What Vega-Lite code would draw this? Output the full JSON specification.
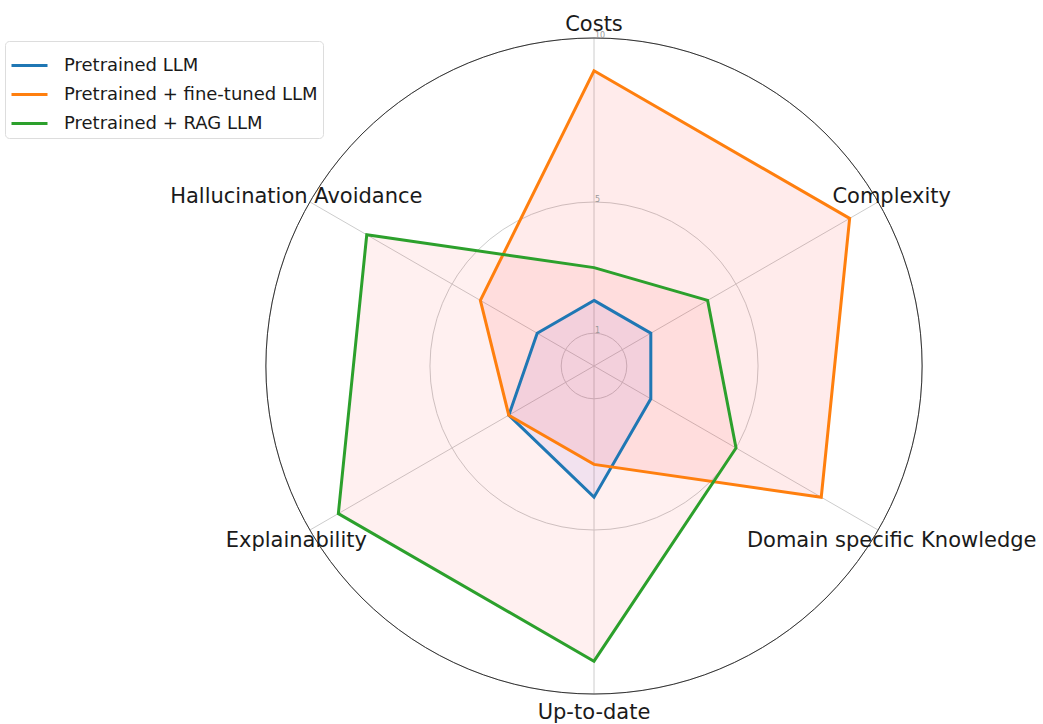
{
  "$schema": "https://vega.github.io/schema/vega-lite/v6.json",
  "width": 656,
  "height": 656,
  "autosize": {"type": "none"},
  "padding": {"left": 266, "top": 38, "right": 121, "bottom": 30},
  "background": "white",
  "config": {"view": {"stroke": null}, "font": "DejaVu Sans"},
  "resolve": {"legend": {"color": "independent", "fill": "independent"}},
  "datasets": {
    "scores": [
      {"series": "Pretrained LLM", "axis": "Costs", "idx": 0, "value": 2},
      {"series": "Pretrained LLM", "axis": "Complexity", "idx": 1, "value": 2},
      {"series": "Pretrained LLM", "axis": "Domain specific Knowledge", "idx": 2, "value": 2},
      {"series": "Pretrained LLM", "axis": "Up-to-date", "idx": 3, "value": 4},
      {"series": "Pretrained LLM", "axis": "Explainability", "idx": 4, "value": 3},
      {"series": "Pretrained LLM", "axis": "Hallucination Avoidance", "idx": 5, "value": 2},
      {"series": "Pretrained + fine-tuned LLM", "axis": "Costs", "idx": 0, "value": 9},
      {"series": "Pretrained + fine-tuned LLM", "axis": "Complexity", "idx": 1, "value": 9},
      {"series": "Pretrained + fine-tuned LLM", "axis": "Domain specific Knowledge", "idx": 2, "value": 8},
      {"series": "Pretrained + fine-tuned LLM", "axis": "Up-to-date", "idx": 3, "value": 3},
      {"series": "Pretrained + fine-tuned LLM", "axis": "Explainability", "idx": 4, "value": 3},
      {"series": "Pretrained + fine-tuned LLM", "axis": "Hallucination Avoidance", "idx": 5, "value": 4},
      {"series": "Pretrained + RAG LLM", "axis": "Costs", "idx": 0, "value": 3},
      {"series": "Pretrained + RAG LLM", "axis": "Complexity", "idx": 1, "value": 4},
      {"series": "Pretrained + RAG LLM", "axis": "Domain specific Knowledge", "idx": 2, "value": 5},
      {"series": "Pretrained + RAG LLM", "axis": "Up-to-date", "idx": 3, "value": 9},
      {"series": "Pretrained + RAG LLM", "axis": "Explainability", "idx": 4, "value": 9},
      {"series": "Pretrained + RAG LLM", "axis": "Hallucination Avoidance", "idx": 5, "value": 8}
    ],
    "axes": [
      {"axis": "Costs", "idx": 0},
      {"axis": "Complexity", "idx": 1},
      {"axis": "Domain specific Knowledge", "idx": 2},
      {"axis": "Up-to-date", "idx": 3},
      {"axis": "Explainability", "idx": 4},
      {"axis": "Hallucination Avoidance", "idx": 5}
    ],
    "ticks": [
      {"r": 1, "label": "1"},
      {"r": 5, "label": "5"},
      {"r": 10, "label": "10"}
    ]
  },
  "layer": [
    {
      "data": {"name": "ticks"},
      "mark": {"type": "arc", "filled": false, "stroke": "#cccccc", "strokeWidth": 1},
      "encoding": {
        "theta": {"value": 0},
        "theta2": {"value": 6.2832},
        "radius": {"field": "r", "type": "quantitative", "stack": null, "scale": {"type": "linear", "domain": [0, 10], "range": [0, 328], "zero": true}}
      }
    },
    {
      "data": {"name": "axes"},
      "transform": [
        {"calculate": "0", "as": "x0"},
        {"calculate": "0", "as": "y0"},
        {"calculate": "10 * sin(datum.idx * PI / 3)", "as": "x1"},
        {"calculate": "10 * cos(datum.idx * PI / 3)", "as": "y1"}
      ],
      "mark": {"type": "rule", "stroke": "#cccccc", "strokeWidth": 1},
      "encoding": {
        "x": {"field": "x0", "type": "quantitative", "scale": {"domain": [-10, 10], "nice": false, "zero": false}, "axis": null},
        "y": {"field": "y0", "type": "quantitative", "scale": {"domain": [-10, 10], "nice": false, "zero": false}, "axis": null},
        "x2": {"field": "x1"},
        "y2": {"field": "y1"}
      }
    },
    {
      "data": {"name": "scores"},
      "transform": [
        {"calculate": "datum.value * sin(datum.idx * PI / 3)", "as": "px"},
        {"calculate": "datum.value * cos(datum.idx * PI / 3)", "as": "py"}
      ],
      "mark": {"type": "line", "interpolate": "linear-closed", "strokeWidth": 0, "stroke": null},
      "encoding": {
        "x": {"field": "px", "type": "quantitative", "axis": null},
        "y": {"field": "py", "type": "quantitative", "axis": null},
        "order": {"field": "idx", "type": "quantitative"},
        "detail": {"field": "series"},
        "fill": {"field": "series", "type": "nominal", "legend": null,
          "scale": {"domain": ["Pretrained LLM", "Pretrained + fine-tuned LLM", "Pretrained + RAG LLM"], "range": ["#8376fa", "#ff0000", "#ff0000"]}},
        "fillOpacity": {"field": "series", "type": "nominal", "legend": null,
          "scale": {"domain": ["Pretrained LLM", "Pretrained + fine-tuned LLM", "Pretrained + RAG LLM"], "range": [0.1, 0.06, 0.06]}}
      }
    },
    {
      "data": {"name": "scores"},
      "transform": [
        {"calculate": "datum.value * sin(datum.idx * PI / 3)", "as": "px"},
        {"calculate": "datum.value * cos(datum.idx * PI / 3)", "as": "py"}
      ],
      "mark": {"type": "line", "interpolate": "linear-closed", "strokeWidth": 3, "strokeJoin": "miter"},
      "encoding": {
        "x": {"field": "px", "type": "quantitative", "axis": null},
        "y": {"field": "py", "type": "quantitative", "axis": null},
        "order": {"field": "idx", "type": "quantitative"},
        "color": {"field": "series", "type": "nominal",
          "scale": {"domain": ["Pretrained LLM", "Pretrained + fine-tuned LLM", "Pretrained + RAG LLM"], "range": ["#1f77b4", "#ff7f0e", "#2ca02c"]},
          "legend": {
            "title": null, "orient": "none", "legendX": -261, "legendY": 3,
            "symbolType": "stroke", "symbolSize": 1296, "symbolStrokeWidth": 3,
            "labelFontSize": 18, "labelColor": "#1a1a1a", "labelFont": "DejaVu Sans", "labelLimit": 0,
            "rowPadding": -2, "labelOffset": 15,
            "strokeColor": "#dddddd", "fillColor": "white", "cornerRadius": 4, "padding": 5
          }
        }
      }
    },
    {
      "data": {"name": "ticks"},
      "transform": [{"filter": "datum.r == 10"}],
      "mark": {"type": "arc", "filled": false, "stroke": "#333333", "strokeWidth": 1},
      "encoding": {
        "theta": {"value": 0},
        "theta2": {"value": 6.2832},
        "radius": {"field": "r", "type": "quantitative", "stack": null, "scale": {"type": "linear", "domain": [0, 10], "range": [0, 328], "zero": true}}
      }
    },
    {
      "data": {"name": "ticks"},
      "transform": [{"calculate": "0", "as": "tx"}],
      "mark": {"type": "text", "align": "left", "baseline": "middle", "dx": 1, "dy": -2, "fontSize": 8, "color": "#999999"},
      "encoding": {
        "x": {"field": "tx", "type": "quantitative", "axis": null},
        "y": {"field": "r", "type": "quantitative", "axis": null},
        "text": {"field": "label"}
      }
    },
    {
      "data": {"name": "axes"},
      "transform": [
        {"calculate": "10.48 * sin(datum.idx * PI / 3)", "as": "lx"},
        {"calculate": "10.48 * cos(datum.idx * PI / 3)", "as": "ly"}
      ],
      "mark": {"type": "text", "align": "center", "baseline": "middle", "dy": 3, "fontSize": 21, "color": "#1a1a1a"},
      "encoding": {
        "x": {"field": "lx", "type": "quantitative", "axis": null},
        "y": {"field": "ly", "type": "quantitative", "axis": null},
        "text": {"field": "axis"}
      }
    }
  ]
}
